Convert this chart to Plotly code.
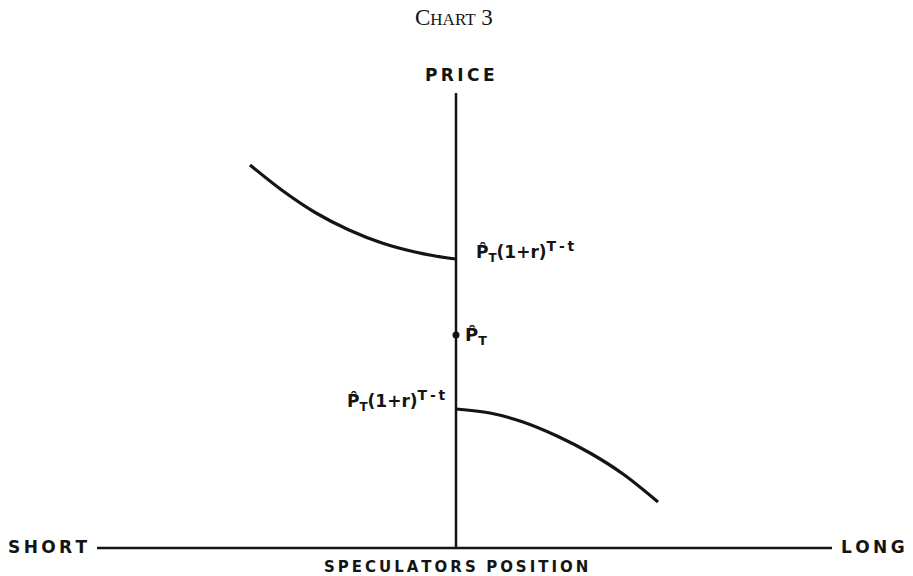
import plotly.graph_objects as go

# Data (x: speculators position, y: price; arbitrary units)
upper_x = [-206, -173, -140, -107, -74, -41, -8, 0]
upper_y = [383, 357, 335, 318, 305, 296, 290, 289]
lower_x = [0, 34, 67, 101, 134, 167, 202]
lower_y = [139, 135, 126, 112, 95, 74, 46]
p_hat = 213
axis_x = [-359, 376]
axis_y_top = 455

INK = "#141414"
FONT = "DejaVu Sans"
TS = "\u2009"  # thin space for letter spacing


def spaced(s):
    return TS.join(s)


fig = go.Figure()
# axes
fig.add_trace(go.Scatter(x=axis_x, y=[0, 0], mode="lines",
                         line=dict(color=INK, width=2.5), hoverinfo="skip"))
fig.add_trace(go.Scatter(x=[0, 0], y=[0, axis_y_top], mode="lines",
                         line=dict(color=INK, width=2.5), hoverinfo="skip"))
# curves
fig.add_trace(go.Scatter(x=upper_x, y=upper_y, mode="lines", line_shape="spline",
                         line=dict(color=INK, width=3.2), hoverinfo="skip"))
fig.add_trace(go.Scatter(x=lower_x, y=lower_y, mode="lines", line_shape="spline",
                         line=dict(color=INK, width=3.2), hoverinfo="skip"))
fig.add_trace(go.Scatter(x=[0], y=[p_hat], mode="markers",
                         marker=dict(color=INK, size=7), hoverinfo="skip"))

ann = []


def add(text, x, y, xanchor="center", yanchor="middle", size=14, family=FONT):
    ann.append(dict(text=text, x=x, y=y, xref="x", yref="y", showarrow=False,
                    xanchor=xanchor, yanchor=yanchor,
                    font=dict(family=family, size=size, color=INK)))


add("<b>" + spaced("PRICE") + "</b>", 4, 473, size=17)
add("<b>" + spaced("SHORT") + "</b>", -366, 1, xanchor="right", size=17)
add("<b>" + spaced("LONG") + "</b>", 383, 1, xanchor="left", size=17)
add("<b>" + spaced("SPECULATORS") + "  " + spaced("POSITION") + "</b>", 0, -19, size=15)
sup = "<sup><span style='font-size:14px'>T" + TS + "-" + TS + "t</span></sup>"
label = "<b>P\u0302<sub>T</sub>(1+r)" + sup + "</b>"
add(label, 18, 297, xanchor="left", size=17)
add(label, -8, 148, xanchor="right", size=17)
add("<b>P\u0302<sub>T</sub></b>", 7, 212, xanchor="left", size=18)
add("C<span style='font-size:17px'>HART</span> 3", -2, 531, size=23, family="Liberation Serif")

fig.update_layout(
    width=905, height=568,
    margin=dict(l=0, r=0, t=0, b=0),
    paper_bgcolor="white", plot_bgcolor="white",
    showlegend=False,
    xaxis=dict(range=[-448, 457], visible=False, fixedrange=True),
    yaxis=dict(range=[-28, 540], visible=False, fixedrange=True),
    annotations=ann,
)
fig.write_html("out.html")
